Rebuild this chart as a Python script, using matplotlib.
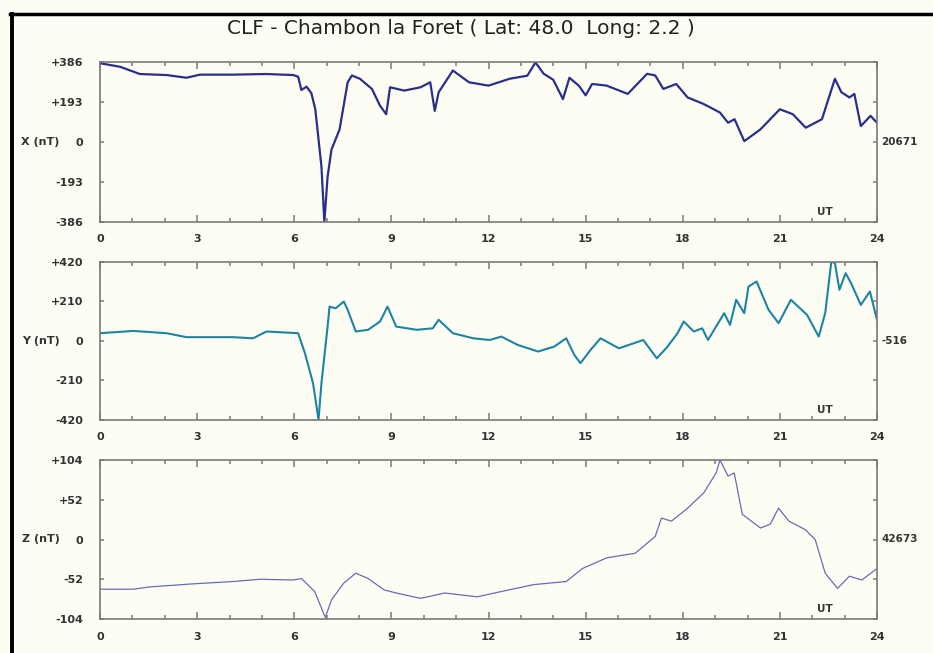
import matplotlib
matplotlib.use("Agg")
import matplotlib.pyplot as plt
from matplotlib.lines import Line2D
from matplotlib.ticker import MultipleLocator, FixedLocator
import matplotlib.transforms as mtransforms

# chart data (hours UT, nT)
title = "CLF - Chambon la Foret ( Lat: 48.0  Long: 2.2 )"
hour_ticks = [0, 3, 6, 9, 12, 15, 18, 21, 24]

x_hours = [0.0, 0.62, 1.23, 2.06, 2.67, 3.09, 4.1, 5.14, 5.97, 6.12, 6.22, 6.38, 6.53,
           6.65, 6.84, 6.93, 7.03, 7.15, 7.4, 7.65, 7.78, 8.03, 8.4, 8.65, 8.84, 8.96,
           9.4, 9.9, 10.2, 10.34, 10.46, 10.9, 11.4, 12.0, 12.65, 13.2, 13.45, 13.7,
           14.0, 14.3, 14.5, 14.8, 15.0, 15.2, 15.65, 16.3, 16.9, 17.15, 17.4, 17.8,
           18.15, 18.65, 19.15, 19.4, 19.6, 19.9, 20.4, 21.0, 21.4, 21.8, 22.3, 22.7,
           22.9, 23.15, 23.3, 23.5, 23.8, 24.0]
x_values = [380, 363, 328, 323, 310, 325, 325, 328, 323, 315, 251, 267, 235,
            158, -118, -386, -167, -37, 61, 288, 321, 305, 256, 175, 134, 264,
            248, 264, 288, 150, 240, 345, 288, 272, 305, 320, 384, 330,
            300, 207, 310, 270, 225, 280, 272, 232, 329, 321, 256, 280,
            215, 183, 142, 93, 110, 4, 61, 158, 134, 69, 110, 305,
            240, 215, 232, 77, 126, 93]

y_hours = [0.0, 1.03, 2.06, 2.67, 4.1, 4.73, 5.14, 6.12, 6.33, 6.58, 6.69, 6.75, 6.84,
           7.03, 7.09, 7.28, 7.53, 7.65, 7.9, 8.28, 8.65, 8.88, 9.15, 9.78, 10.28,
           10.46, 10.9, 11.53, 12.03, 12.4, 12.9, 13.53, 14.03, 14.4, 14.65, 14.84,
           15.15, 15.46, 16.03, 16.78, 17.2, 17.53, 17.84, 18.03, 18.34, 18.6, 18.78,
           19.28, 19.46, 19.65, 19.9, 20.03, 20.28, 20.65, 20.96, 21.34, 21.84, 22.2,
           22.4, 22.59, 22.7, 22.84, 23.03, 23.2, 23.5, 23.78, 24.0]
y_values = [40, 52, 40, 19, 19, 13, 49, 40, -66, -225, -349, -420, -225,
            75, 181, 172, 208, 164, 49, 58, 102, 181, 75, 58, 66,
            111, 40, 13, 4, 22, -22, -57, -31, 13, -75, -119,
            -49, 13, -40, 4, -93, -31, 40, 102, 49, 66, 4,
            146, 84, 217, 146, 287, 314, 164, 93, 217, 137, 22,
            146, 420, 411, 270, 358, 305, 190, 261, 111]

z_hours = [0.0, 1.03, 1.54, 2.88, 4.1, 4.94, 5.97, 6.22, 6.63, 6.96, 7.15, 7.53, 7.9,
           8.28, 8.78, 9.15, 9.9, 10.65, 11.65, 12.4, 13.4, 14.4, 14.9, 15.65, 16.53,
           17.15, 17.34, 17.65, 18.15, 18.65, 19.03, 19.15, 19.4, 19.59, 19.84, 20.4,
           20.7, 20.96, 21.28, 21.78, 22.09, 22.4, 22.78, 23.15, 23.53, 24.0]
z_values = [-65, -65, -62, -58, -55, -52, -53, -51, -68, -102, -79, -57, -44,
            -51, -66, -70, -77, -70, -75, -68, -59, -55, -38, -24, -18,
            4, 28, 24, 41, 61, 87, 104, 83, 87, 33, 15,
            20, 41, 24, 13, 0, -44, -64, -48, -53, -38]

panels = [
    ("X (nT)", 386, "20671", x_hours, x_values, "#2b2f8c", 1.6),
    ("Y (nT)", 420, "-516", y_hours, y_values, "#1d84a6", 1.5),
    ("Z (nT)", 104, "42673", z_hours, z_values, "#6a6ab8", 0.9),
]

bg = "#fdfdf4"
frame = "#7a7a7a"
txt = "#333333"

fig = plt.figure(figsize=(9.33, 6.53), dpi=100, facecolor=bg)

# axes boxes in figure pixels: top, bottom
boxes = [(62, 222), (261.5, 420), (460, 619)]
W, H = 933.0, 653.0
left_px, right_px = 100, 877

for (name, lim, base, hrs, vals, col, lw), (top, bot) in zip(panels, boxes):
    ax = fig.add_axes([left_px / W, 1 - bot / H, (right_px - left_px) / W, (bot - top) / H])
    ax.set_facecolor(bg)
    ax.plot(hrs, vals, color=col, lw=lw, solid_joinstyle="round")
    ax.set_xlim(0, 24)
    ax.set_ylim(-lim, lim)

    for s in ax.spines.values():
        s.set_color(frame)
        s.set_linewidth(1.2)

    ax.xaxis.set_major_locator(FixedLocator(hour_ticks))
    ax.xaxis.set_minor_locator(MultipleLocator(1))
    ax.set_xticklabels([str(h) for h in hour_ticks])
    ax.tick_params(axis="x", which="both", direction="in", top=True, bottom=True,
                   color=frame, labelsize=8, pad=9)
    ax.tick_params(axis="x", which="major", length=5, width=1.1)
    ax.tick_params(axis="x", which="minor", length=3, width=1.1)

    yt = [-lim, -lim / 2, 0, lim / 2, lim]
    ax.set_yticks(yt)
    ax.set_yticklabels(["-%d" % lim, "-%d" % (lim / 2), "0", "+%d" % (lim / 2), "+%d" % lim])
    ax.tick_params(axis="y", direction="in", left=True, right=True, length=3, width=1.1,
                   color=frame, labelsize=8, pad=12)
    for lab in ax.get_xticklabels() + ax.get_yticklabels():
        lab.set_fontweight("bold")
        lab.set_color(txt)

    trans = mtransforms.blended_transform_factory(ax.transAxes, ax.transData)
    ax.annotate(name, xy=(0, 0), xycoords=trans, xytext=(-29, 0), textcoords="offset points",
                ha="right", va="center", fontsize=8, fontweight="bold", color=txt)
    ax.annotate(base, xy=(1, 0), xycoords=trans, xytext=(3, 0), textcoords="offset points",
                ha="left", va="center", fontsize=7.5, fontweight="bold", color=txt)
    ax.text(0.923, 0.03, "UT", transform=ax.transAxes, fontsize=7.5, fontweight="bold",
            color=txt, ha="left", va="bottom")

fig.text(461 / W, 1 - 29 / H, title, ha="center", va="center", fontsize=14.5, color="#222222")

# black border at the top and left of the picture
fig.add_artist(Line2D([10 / W, 1], [1 - 13.5 / H, 1 - 13.5 / H], color="black", lw=2.5,
                      transform=fig.transFigure))
fig.add_artist(Line2D([12 / W, 12 / W], [0, 1 - 13.5 / H], color="black", lw=2.8,
                      transform=fig.transFigure))

fig.savefig("out.png", dpi=100, facecolor=bg)
